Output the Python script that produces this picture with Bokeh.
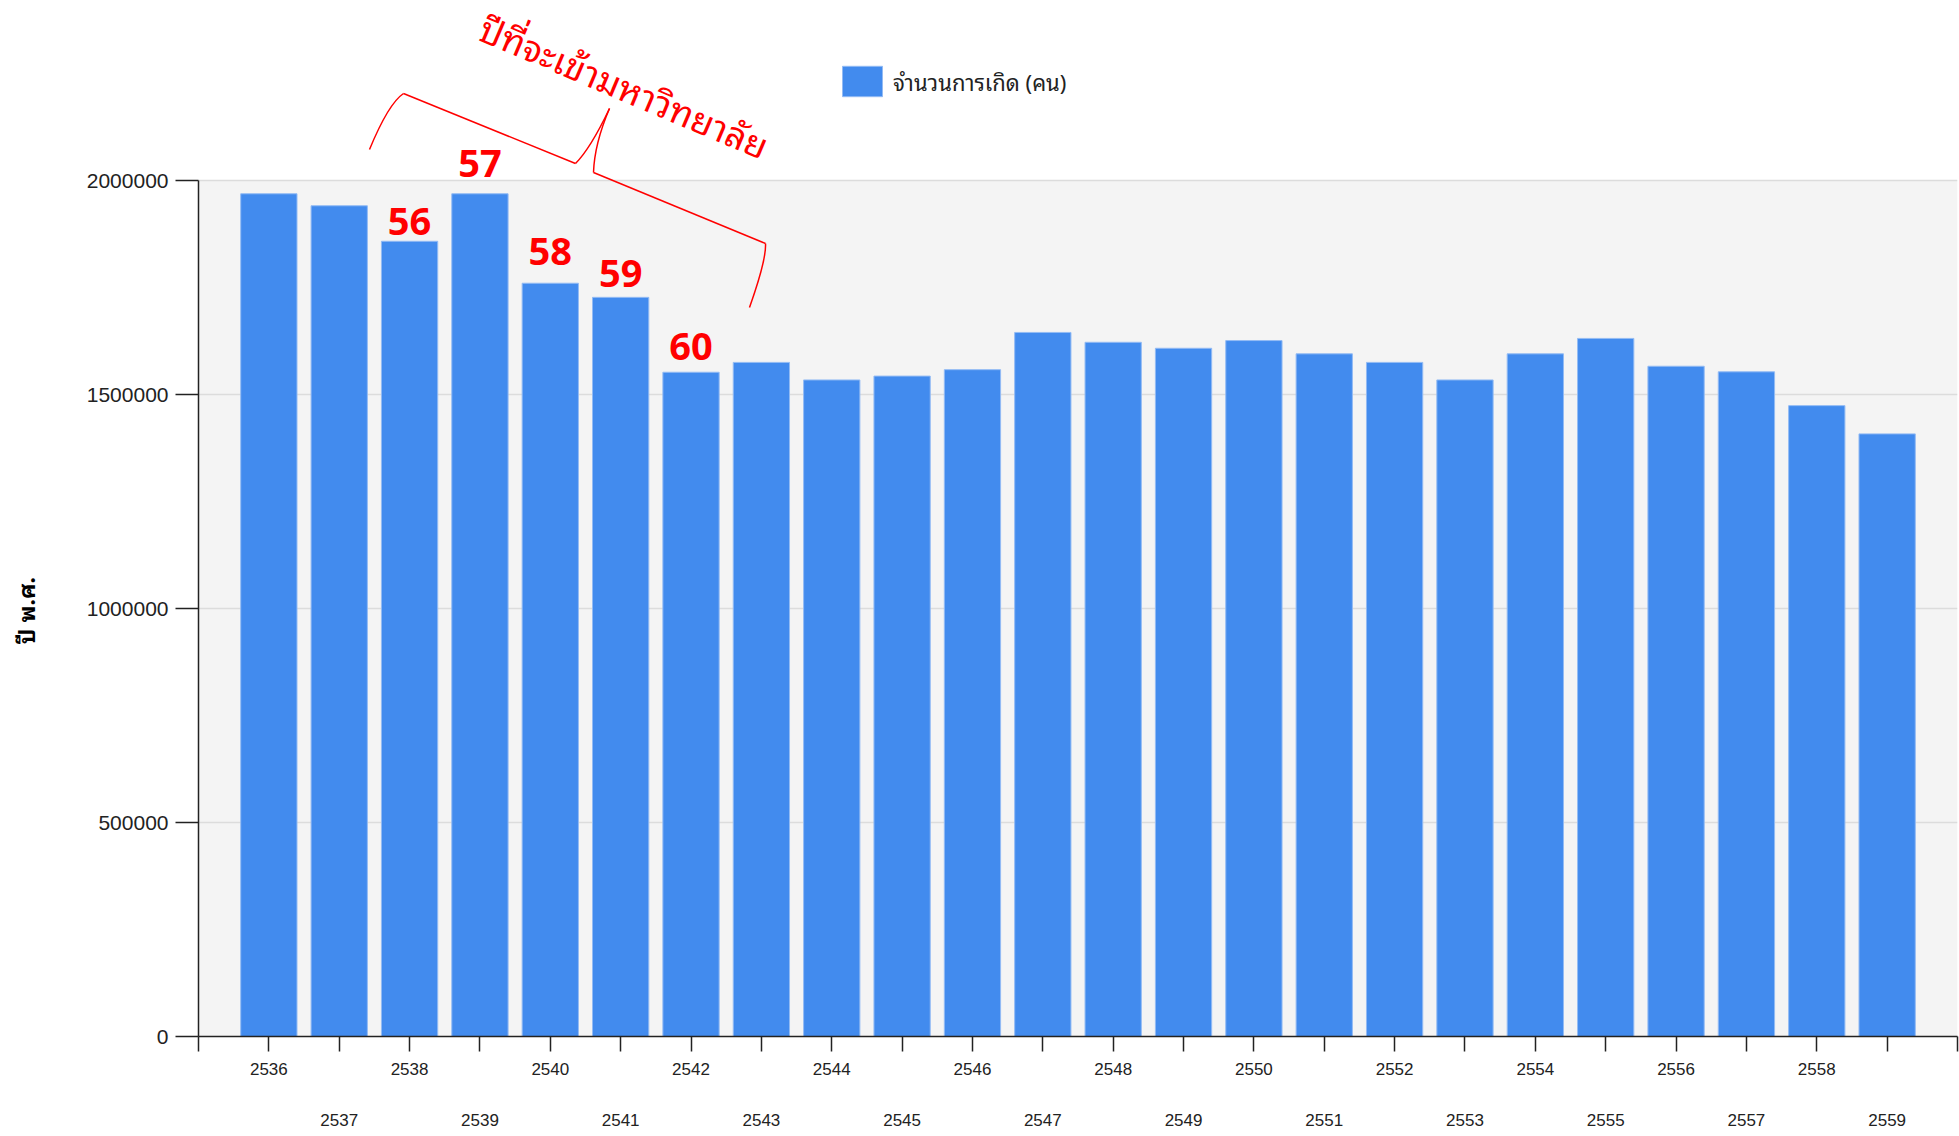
import math
from bokeh.plotting import figure
from bokeh.models import (FixedTicker, LinearAxis, NumeralTickFormatter, BoxAnnotation,
                          Range1d, Legend, LegendItem)
from bokeh.core.properties import value
from bokeh.embed import file_html
from bokeh.resources import INLINE

# ---------------- data ----------------
years = list(range(2536, 2560))
births = [1969000, 1941000, 1858000, 1969000, 1760000, 1727000, 1552000, 1575000,
          1534000, 1543000, 1558000, 1645000, 1622000, 1608000, 1626000, 1595000,
          1575000, 1534000, 1595000, 1631000, 1566000, 1553000, 1474000, 1408000]
y_ticks = [0, 500000, 1000000, 1500000, 2000000]
mark_years = [2538, 2539, 2540, 2541, 2542]
mark_texts = ["56", "57", "58", "59", "60"]
title_text = "ปีที่จะเข้ามหาวิทยาลัย"
legend_text = "จำนวนการเกิด (คน)"
y_axis_title = "ปี พ.ศ."

# ---------------- layout ----------------
W, H = 1959, 1136
FL, FR, FT, FB = 198, 1957, 0, 1036          # frame edges in px
X0, X1 = 2535, 2560
PX_PER_YEAR = (FR - FL) / (X1 - X0)
VPP = 2000000 / 856.0                        # values per pixel
Y_END = (FB - FT) * VPP
THAI = "Noto Sans Thai Looped, Noto Sans Thai, Noto Sans, sans-serif"
RED = "#FF0000"
BASELINE_FIX = 12                            # px correction for text baseline
EMSP = "\u2003"                              # trailing em spaces shift the axis title down


def dx(px):
    return X0 + (px - FL) / PX_PER_YEAR


def dy(py):
    return (FB - py) * VPP


p = figure(width=W, height=H, x_range=Range1d(X0, X1), y_range=Range1d(0, Y_END),
           output_backend="svg", toolbar_location=None,
           min_border_left=FL, min_border_right=W - FR, min_border_top=FT,
           min_border_bottom=H - FB, background_fill_color="white",
           border_fill_color="white", outline_line_color=None)

# grey plotting area (0 .. 2,000,000)
p.add_layout(BoxAnnotation(bottom=0, top=2000000, fill_color="#F4F4F4", fill_alpha=1.0,
                           line_color=None, level="image"))

# grid
p.xgrid.visible = False
p.ygrid.ticker = FixedTicker(ticks=y_ticks)
p.ygrid.grid_line_color = "#DCDCDC"
p.ygrid.grid_line_width = 1.5

# y axis
ya = p.yaxis[0]
ya.ticker = FixedTicker(ticks=y_ticks)
ya.bounds = (0, 2000000)
ya.formatter = NumeralTickFormatter(format="0")
ya.major_label_text_font = "Liberation Sans"
ya.major_label_text_font_size = "21px"
ya.major_label_text_color = "#222222"
ya.major_label_standoff = 7
ya.major_tick_out = 23
ya.major_tick_in = 0
ya.minor_tick_out = 0
ya.minor_tick_in = 0
ya.axis_line_width = 1.5
ya.axis_line_color = "#222222"
ya.major_tick_line_color = "#222222"
ya.major_tick_line_width = 1.5
ya.axis_label = y_axis_title + EMSP * 8
ya.axis_label_text_font = THAI
ya.axis_label_text_font_style = "bold"
ya.axis_label_text_font_size = "23px"
ya.axis_label_text_color = "#000000"
ya.axis_label_standoff = 41

# x axis (row 1: even years, with ticks)
xa = p.xaxis[0]
all_ticks = list(range(X0, X1 + 1))
xa.ticker = FixedTicker(ticks=all_ticks)
xa.major_label_overrides = {t: (str(t) if (t in years and t % 2 == 0) else "") for t in all_ticks}
xa.major_label_text_font = "Liberation Sans"
xa.major_label_text_font_size = "17px"
xa.major_label_text_color = "#222222"
xa.major_label_standoff = 11
xa.major_tick_out = 15
xa.major_tick_in = 0
xa.minor_tick_out = 0
xa.minor_tick_in = 0
xa.axis_line_width = 1.5
xa.axis_line_color = "#222222"
xa.major_tick_line_color = "#222222"
xa.major_tick_line_width = 1.5

# x axis (row 2: odd years)
odd_years = [y for y in years if y % 2 == 1]
xa2 = LinearAxis(ticker=FixedTicker(ticks=odd_years))
xa2.major_label_overrides = {t: str(t) for t in odd_years}
xa2.major_label_text_font = "Liberation Sans"
xa2.major_label_text_font_size = "17px"
xa2.major_label_text_color = "#222222"
xa2.major_label_standoff = 36
xa2.major_tick_out = 0
xa2.major_tick_in = 0
xa2.minor_tick_out = 0
xa2.minor_tick_in = 0
xa2.axis_line_color = None
xa2.major_tick_line_color = None
xa2.minor_tick_line_color = None
p.add_layout(xa2, "below")

# bars
bars = p.vbar(x=years, top=births, width=0.8, bottom=0,
              fill_color="#428BEE", line_color="#93BBF4", line_width=1)

# legend (bar legend glyph is drawn inset by 10% on each side)
legend = Legend(items=[LegendItem(label=legend_text, renderers=[bars])],
                location=(837 - FL, FB - 100), orientation="horizontal",
                glyph_width=50, glyph_height=38, label_standoff=6,
                padding=0, margin=0, spacing=0, label_height=38,
                border_line_color=None, background_fill_alpha=0,
                label_text_font=THAI, label_text_font_size="22px",
                label_text_color="#222222")
p.add_layout(legend)

# red year-of-entry numbers above bars
mark_gap_px = [6, 16, 18, 10, 12]
mark_y = [births[years.index(yr)] + (g + BASELINE_FIX + 2) * VPP
          for yr, g in zip(mark_years, mark_gap_px)]
p.text(x=mark_years, y=mark_y, text=mark_texts, text_color=RED,
       text_font=value("Open Sans"), text_font_style="bold", text_font_size="38px",
       text_align="center", text_baseline="alphabetic")

# rotated annotation text
p.text(x=[dx(482)], y=[dy(36 - BASELINE_FIX)], text=[title_text], angle=-math.radians(23),
       text_color=RED, text_font=value(THAI), text_font_size="36px",
       text_align="left", text_baseline="alphabetic")

# curly brace (pixel geometry)
curves = [((369, 149), (403, 93), (388, 103)),
          ((575, 163), (609, 108), (590, 148)),
          ((609, 108), (593, 172), (594, 143)),
          ((765, 243), (749, 307), (766, 259))]
p.quadratic(x0=[dx(a[0]) for a, b, c in curves], y0=[dy(a[1]) for a, b, c in curves],
            x1=[dx(b[0]) for a, b, c in curves], y1=[dy(b[1]) for a, b, c in curves],
            cx=[dx(c[0]) for a, b, c in curves], cy=[dy(c[1]) for a, b, c in curves],
            line_color=RED, line_width=1.5)
straight = [((403, 93), (575, 163)), ((593, 172), (765, 243))]
p.segment(x0=[dx(a[0]) for a, b in straight], y0=[dy(a[1]) for a, b in straight],
          x1=[dx(b[0]) for a, b in straight], y1=[dy(b[1]) for a, b in straight],
          line_color=RED, line_width=1.5)

open("out.html", "w").write(file_html(p, INLINE))
